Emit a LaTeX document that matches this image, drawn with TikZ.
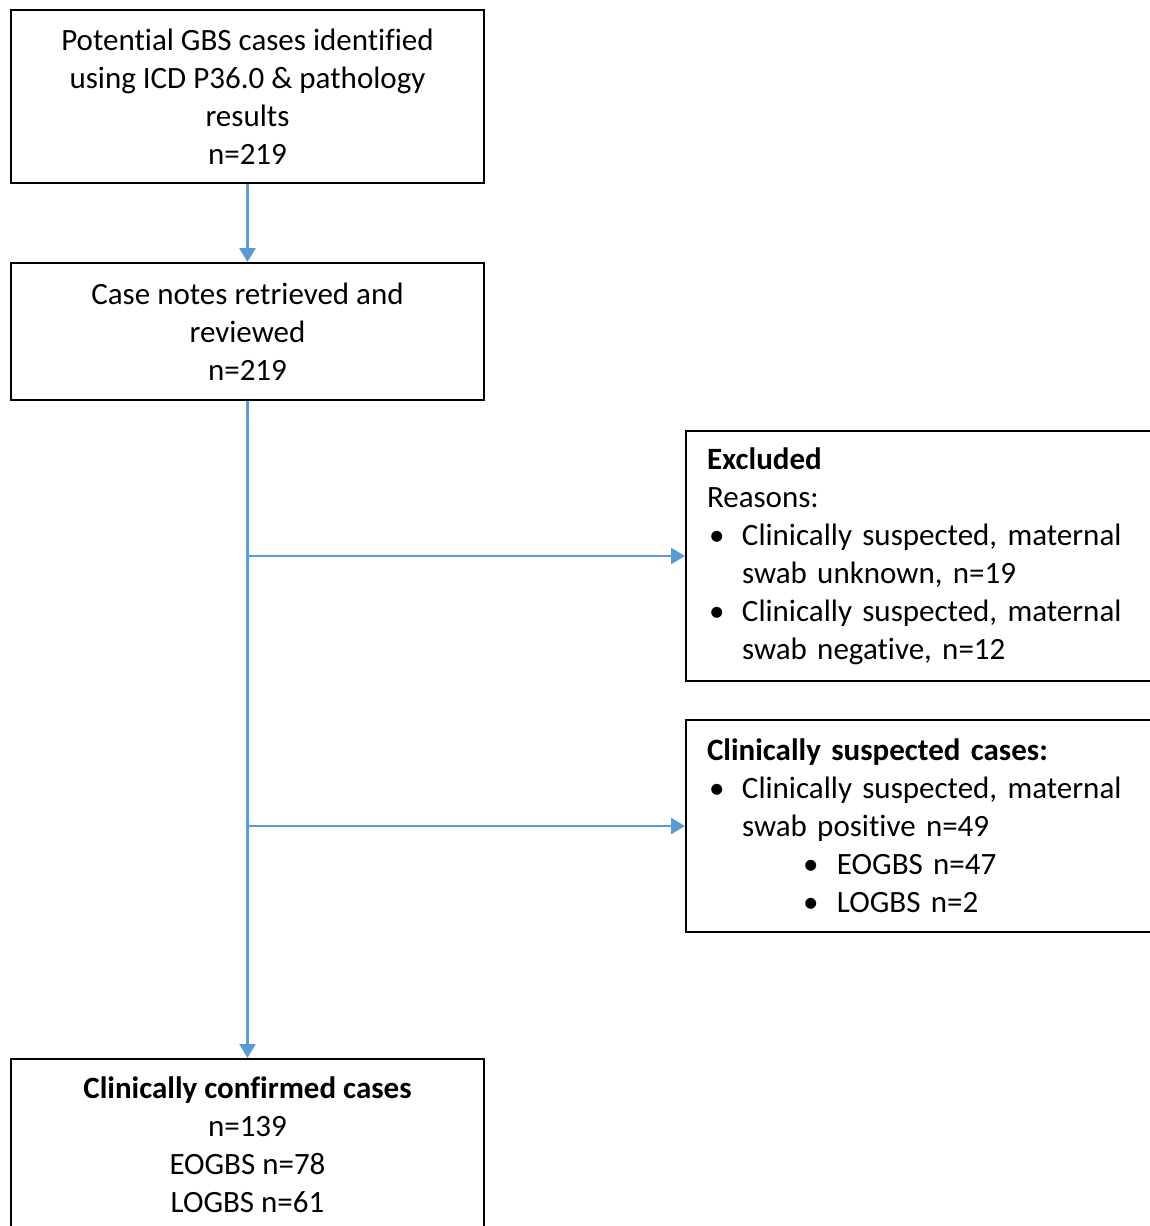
\documentclass[tikz,border=0pt]{standalone}
\usepackage{fontspec}
\setmainfont{Carlito}[Ligatures=NoCommon]
\usetikzlibrary{arrows.meta}
\definecolor{flowblue}{RGB}{91,155,213}
\newcommand{\bul}{\makebox[17.5pt][l]{\hspace{1pt}\textbullet}}
\newcommand{\ind}{\hspace{17.5pt}}
\newcommand{\subbul}{\hspace{48pt}\makebox[17pt][l]{\textbullet}}
\tikzset{
  box/.style={draw=black, line width=1pt, inner sep=0pt, align=center,
    minimum width=236.5pt},
  sidebox/.style={draw=black, line width=1pt, inner xsep=10.5pt, inner ysep=0pt,
    text width=219pt, align=left, anchor=north west},
  flow/.style={draw=flowblue, line width=1.3pt, -{Triangle[width=8pt,length=7pt]}},
}
\begin{document}
\frenchspacing
\begin{tikzpicture}[x=0.5pt, y=-0.5pt, font=\fontsize{15.5}{19}\selectfont]
	\useasboundingbox (0,0) rectangle (1150,1226);
	% main column
	\node[box, minimum height=86.5pt, anchor=north west] (pot) at (10,9)
		{Potential GBS cases identified\\using ICD P36.0 \& pathology\\results\\n=219};
	\node[box, minimum height=68.5pt, anchor=north west] (notes) at (10,262)
		{Case notes retrieved and\\reviewed\\n=219};
	\node[box, minimum height=86pt, anchor=north west] (conf) at (10,1058)
		{\textbf{Clinically confirmed cases}\\n=139\\EOGBS n=78\\LOGBS n=61};
	% side boxes
	\node[sidebox, minimum height=125pt] (excl) at (685,430)
		{\textbf{Excluded}\\Reasons:\\
		\bul Clinically suspected, maternal\\\ind swab unknown, n=19\\
		\bul Clinically suspected, maternal\\\ind swab negative, n=12};
	\node[sidebox, minimum height=106pt] (susp) at (685,719)
		{\textbf{Clinically suspected cases:}\\
		\bul Clinically suspected, maternal\\\ind swab positive n=49\\
		\subbul EOGBS n=47\\\subbul LOGBS n=2};
	% connectors
	\coordinate (bexcl) at (notes.south |- excl.west);
	\coordinate (bsusp) at (notes.south |- susp.west);
	\draw[flow] (pot) -- (notes);
	\draw[flow] (notes) -- (conf);
	\draw[flow] (bexcl) -- (excl.west);
	\draw[flow] (bsusp) -- (susp.west);
\end{tikzpicture}
\end{document}
